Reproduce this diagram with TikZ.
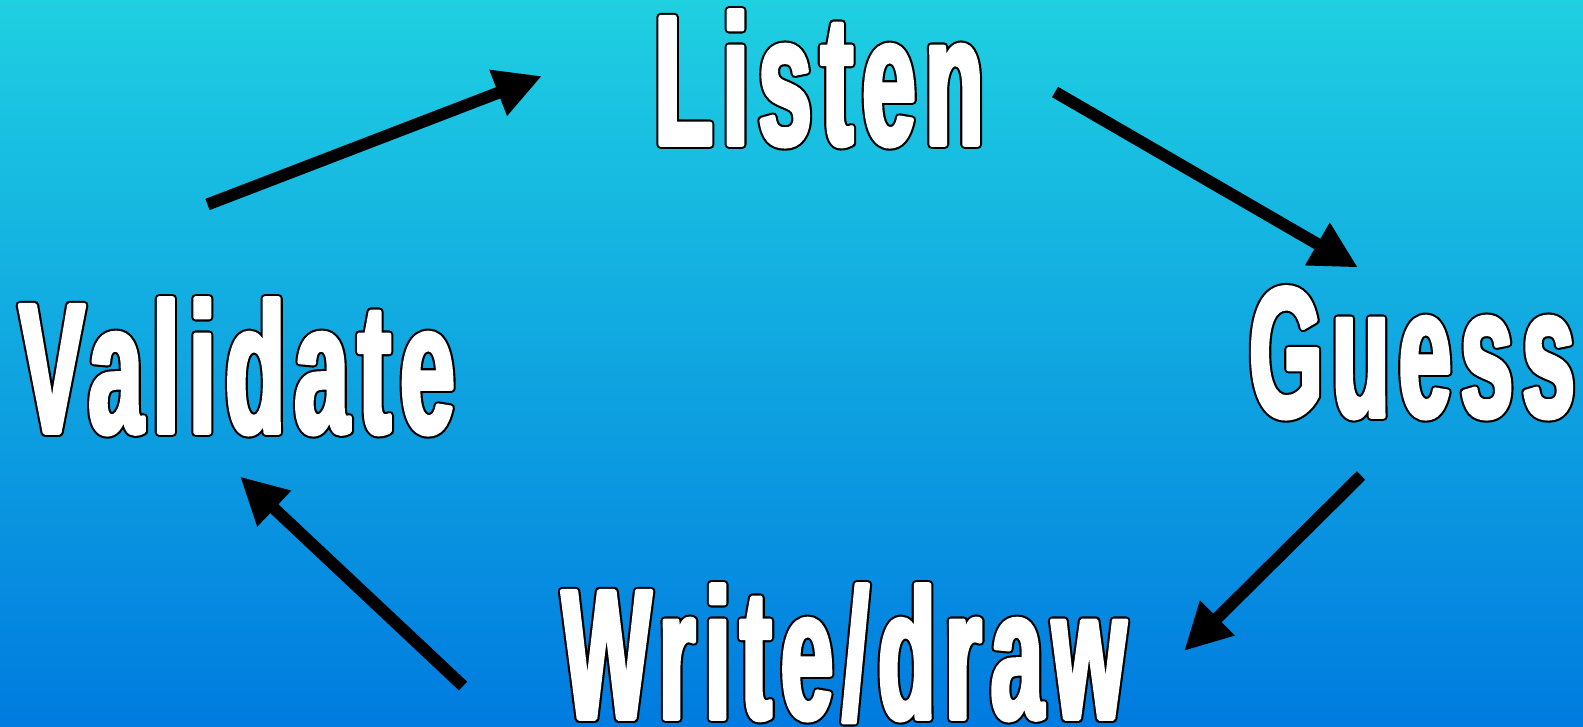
\documentclass[tikz,border=0pt]{standalone}
\usepackage{fontspec}
\usetikzlibrary{arrows.meta}
\newfontfamily\wordfontA[FakeStretch=0.53,LetterSpace=5]{Liberation Sans}
\newfontfamily\wordfontB[FakeStretch=0.52,LetterSpace=5]{Liberation Sans}
\newfontfamily\wordfontC[FakeStretch=0.51,LetterSpace=5]{Liberation Sans}
\definecolor{bgtop}{RGB}{31,208,225}
\definecolor{bgbot}{RGB}{0,123,224}
\newcommand{\outlined}[1]{\rlap{\color{black}\special{pdf:literal direct 1 Tr 1 j 8.8 w 0 G}#1\special{pdf:literal direct 0 Tr}}{\color{white}\special{pdf:literal direct 2 Tr 1 j 4.5 w 1 G}#1\special{pdf:literal direct 0 Tr}}}
\tikzset{
  word/.style={anchor=base, inner sep=0pt},
  wordA/.style={word, font=\wordfontA\bfseries\fontsize{185}{185}\selectfont},
  wordB/.style={word, font=\wordfontB\bfseries\fontsize{185}{185}\selectfont},
  wordC/.style={word, font=\wordfontC\bfseries\fontsize{185}{185}\selectfont},
  cyclearrow/.style={line width=12pt, -{Triangle[length=47pt,width=46pt]}}
}
\begin{document}
\begin{tikzpicture}[x=1pt,y=-1pt]
\useasboundingbox (0,0) rectangle (1583,727);
\shade[top color=bgtop, bottom color=bgbot] (0,0) rectangle (1583,727);
\node[wordB] (listen) at (819,144.5) {\outlined{Listen}};
\node[wordC] (guess) at (1412,416.5) {\outlined{Guess}};
\node[wordA] (validate) at (237,432.5) {\outlined{Validate}};
\node[wordC] (write) at (844,718.5) {\outlined{Write/draw}};
\coordinate (a1s) at (207.5,204.5);
\coordinate (a1e) at (542,76);
\coordinate (a2s) at (1055,92);
\coordinate (a2e) at (1358,267.5);
\coordinate (a3s) at (1361,475.5);
\coordinate (a3e) at (1184,651);
\coordinate (a4s) at (463,686);
\coordinate (a4e) at (240,476.5);
\draw[cyclearrow] (a1s) -- (a1e);
\draw[cyclearrow] (a2s) -- (a2e);
\draw[cyclearrow] (a3s) -- (a3e);
\draw[cyclearrow] (a4s) -- (a4e);
\end{tikzpicture}
\end{document}
